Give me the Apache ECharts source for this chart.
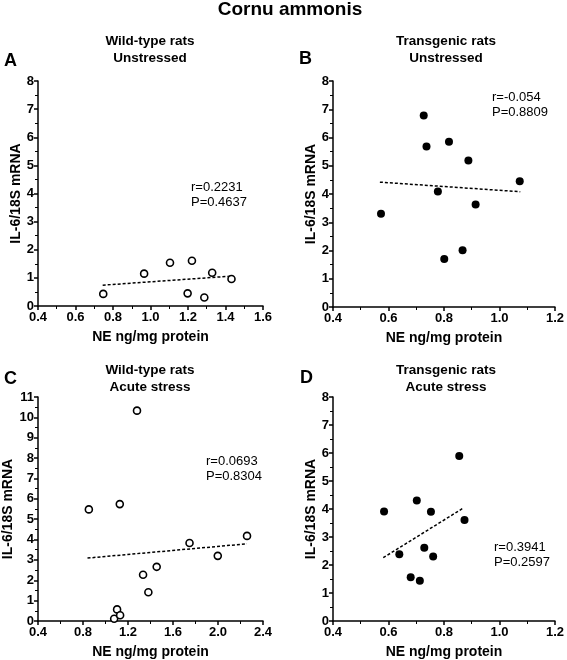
<!DOCTYPE html>
<html><head><meta charset="utf-8">
<script src="https://cdn.jsdelivr.net/npm/echarts@6/dist/echarts.min.js"></script>
<style>html,body{margin:0;padding:0;background:#fff}#c{width:567px;height:660px}</style>
</head><body><div id="c"></div>
<script>
// Data
const mainTitle = "Cornu ammonis";
const panelLetters = ["A", "B", "C", "D"];
const panelTitles = [["Wild-type rats", "Unstressed"], ["Transgenic rats", "Unstressed"], ["Wild-type rats", "Acute stress"], ["Transgenic rats", "Acute stress"]];
const statsText = [["r=0.2231", "P=0.4637"], ["r=-0.054", "P=0.8809"], ["r=0.0693", "P=0.8304"], ["r=0.3941", "P=0.2597"]];
const xAxisTitle = "NE ng/mg protein";
const yAxisTitle = "IL-6/18S mRNA";

const wtUnstressed = [[0.748,0.43],[0.966,1.15],[1.104,1.54],[1.221,1.61],[1.198,0.45],[1.287,0.30],[1.329,1.18],[1.432,0.96]];
const tgUnstressed = [[0.573,3.30],[0.727,6.78],[0.737,5.68],[0.778,4.09],[0.818,5.85],[0.801,1.70],[0.867,2.01],[0.888,5.19],[0.914,3.63],[1.073,4.45]];
const wtAcute = [[0.852,5.48],[1.280,10.33],[1.127,5.74],[1.334,2.27],[1.455,2.66],[1.381,1.41],[1.103,0.57],[1.077,0.11],[1.130,0.28],[1.747,3.83],[1.998,3.20],[2.258,4.18]];
const tgAcute = [[0.584,3.91],[0.639,2.38],[0.680,1.56],[0.713,1.44],[0.702,4.30],[0.729,2.62],[0.753,3.90],[0.761,2.30],[0.855,5.89],[0.874,3.61]];

const fitWtUnstressed = [[0.745,0.74],[1.425,1.06]];
const fitTgUnstressed = [[0.569,4.42],[1.075,4.08]];
const fitWtAcute = [[0.840,3.09],[2.258,3.79]];
const fitTgAcute = [[0.581,2.26],[0.869,4.03]];

const xRanges = [[0.4,1.6,0.2],[0.4,1.2,0.2],[0.4,2.4,0.4],[0.4,1.2,0.2]];
const yRanges = [[0,8,1],[0,8,1],[0,11,1],[0,8,1]];

const FONT = '"Liberation Sans", Arial, sans-serif';
const grids = [
  {left:38, top:81, width:225, height:225},
  {left:333, top:81, width:226, height:226},
  {left:38, top:397, width:225, height:225},
  {left:333, top:397, width:225, height:225}
];
const points = [wtUnstressed, tgUnstressed, wtAcute, tgAcute];
const fits = [fitWtUnstressed, fitTgUnstressed, fitWtAcute, fitTgAcute];
const filled = [false, true, false, true];

const axisCommon = {
  axisLine:{show:true, onZero:false, lineStyle:{color:'#000', width:1.5}},
  axisTick:{show:true, inside:false, length:4, lineStyle:{color:'#000', width:1.5}},
  minorTick:{show:true, splitNumber:2, length:3, lineStyle:{color:'#000', width:1}},
  splitLine:{show:false},
  minorSplitLine:{show:false},
  axisLabel:{color:'#000', fontFamily:FONT, fontWeight:'bold', fontSize:13, margin:5}
};

const xAxes = xRanges.map((r,i)=>Object.assign({}, axisCommon, {
  type:'value', gridIndex:i, min:r[0], max:r[1], interval:r[2],
  name:xAxisTitle, nameLocation:'middle', nameGap:24,
  nameTextStyle:{color:'#000', fontFamily:FONT, fontWeight:'bold', fontSize:14},
  axisLabel:Object.assign({}, axisCommon.axisLabel, {formatter:v=>v.toFixed(1)})
}));
const yAxes = yRanges.map((r,i)=>Object.assign({}, axisCommon, {
  type:'value', gridIndex:i, min:r[0], max:r[1], interval:r[2],
  name:yAxisTitle, nameLocation:'middle', nameGap:15, nameRotate:90,
  nameTextStyle:{color:'#000', fontFamily:FONT, fontWeight:'bold', fontSize:14},
  axisLabel:Object.assign({}, axisCommon.axisLabel, {margin:4})
}));

const series = [];
points.forEach((p,i)=>{
  series.push({type:'line', xAxisIndex:i, yAxisIndex:i, data:fits[i], symbol:'none', silent:true,
    lineStyle:{color:'#000', width:1.5, type:[3,2]}, z:1});
  series.push({type:'scatter', xAxisIndex:i, yAxisIndex:i, data:p, symbol:'circle', symbolSize:filled[i]?8:7,
    itemStyle:{color:filled[i]?'#000':'#fff', borderColor:'#000', borderWidth:filled[i]?0:1.6, opacity:1}, z:2});
});

const letterPos = [[4,52],[299,50],[4,370],[300,369]];
const titleCenters = [[150,41],[446,41],[150,370],[446,370]];
const statPos = [[191,187],[492,97],[206,461],[494,547]];
const graphic = [];
graphic.push({type:'text', x:290, y:10, style:{text:mainTitle, font:'bold 19px '+FONT, fill:'#000', textAlign:'center', textVerticalAlign:'middle'}});
for(let i=0;i<4;i++){
  graphic.push({type:'text', x:letterPos[i][0], y:letterPos[i][1], style:{text:panelLetters[i], font:'bold 18px '+FONT, fill:'#000'}});
  graphic.push({type:'text', x:titleCenters[i][0], y:titleCenters[i][1], style:{text:panelTitles[i][0], font:'bold 13.5px '+FONT, fill:'#000', textAlign:'center', textVerticalAlign:'middle'}});
  graphic.push({type:'text', x:titleCenters[i][0], y:titleCenters[i][1]+17, style:{text:panelTitles[i][1], font:'bold 13.5px '+FONT, fill:'#000', textAlign:'center', textVerticalAlign:'middle'}});
  graphic.push({type:'text', x:statPos[i][0], y:statPos[i][1], style:{text:statsText[i][0], font:'13px '+FONT, fill:'#000', textVerticalAlign:'middle'}});
  graphic.push({type:'text', x:statPos[i][0], y:statPos[i][1]+15, style:{text:statsText[i][1], font:'13px '+FONT, fill:'#000', textVerticalAlign:'middle'}});
}

const chart = echarts.init(document.getElementById('c'), null, {renderer:'canvas'});
chart.setOption({
  animation:false,
  backgroundColor:'#fff',
  grid:grids,
  xAxis:xAxes,
  yAxis:yAxes,
  series:series,
  graphic:graphic
});
</script></body></html>
